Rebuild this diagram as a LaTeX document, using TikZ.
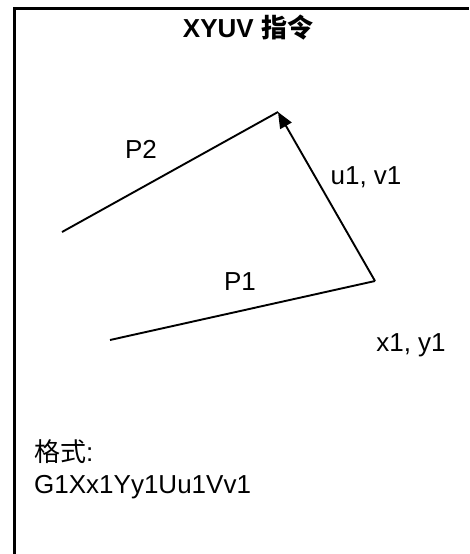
\documentclass[tikz,border=0pt]{standalone}
\usepackage{fontspec}
\setmainfont{Liberation Sans}
\newfontfamily\cjk{Noto Sans CJK SC}
\usetikzlibrary{arrows.meta}

\begin{document}
\begin{tikzpicture}[x=1pt,y=-1pt,
  txt/.style={inner sep=0pt,font=\fontsize{26}{30}\selectfont},
  seg/.style={line width=1.9pt}]

  \useasboundingbox (0,0) rectangle (469,554);
  \draw[line width=3pt] (14.5,554) -- (14.5,8.5) -- (469,8.5);

  \node[txt,font=\fontsize{26}{30}\selectfont\bfseries] (title) at (248,28) {XYUV {\cjk 指令}};

  \coordinate (a) at (62,232);
  \coordinate (b) at (278,112);
  \coordinate (c) at (375,281);
  \coordinate (d) at (110,340);

  \draw[seg] (a) -- (b);
  \draw[seg,-{Triangle[length=16pt,width=13pt]}] (c) -- (b);
  \draw[seg] (d) -- (c);

  \node[txt] (p2) at (141,149) {P2};
  \node[txt] (uv) at (366,177) {u1, v1};
  \node[txt] (p1) at (240,282) {P1};
  \node[txt] (xy) at (411,345) {x1, y1};

  \node[txt,anchor=west] (fmt) at (34,452) {{\cjk 格式}:};
  \node[txt,anchor=west] (code) at (34,487) {G1Xx1Yy1Uu1Vv1};

\end{tikzpicture}
\end{document}
